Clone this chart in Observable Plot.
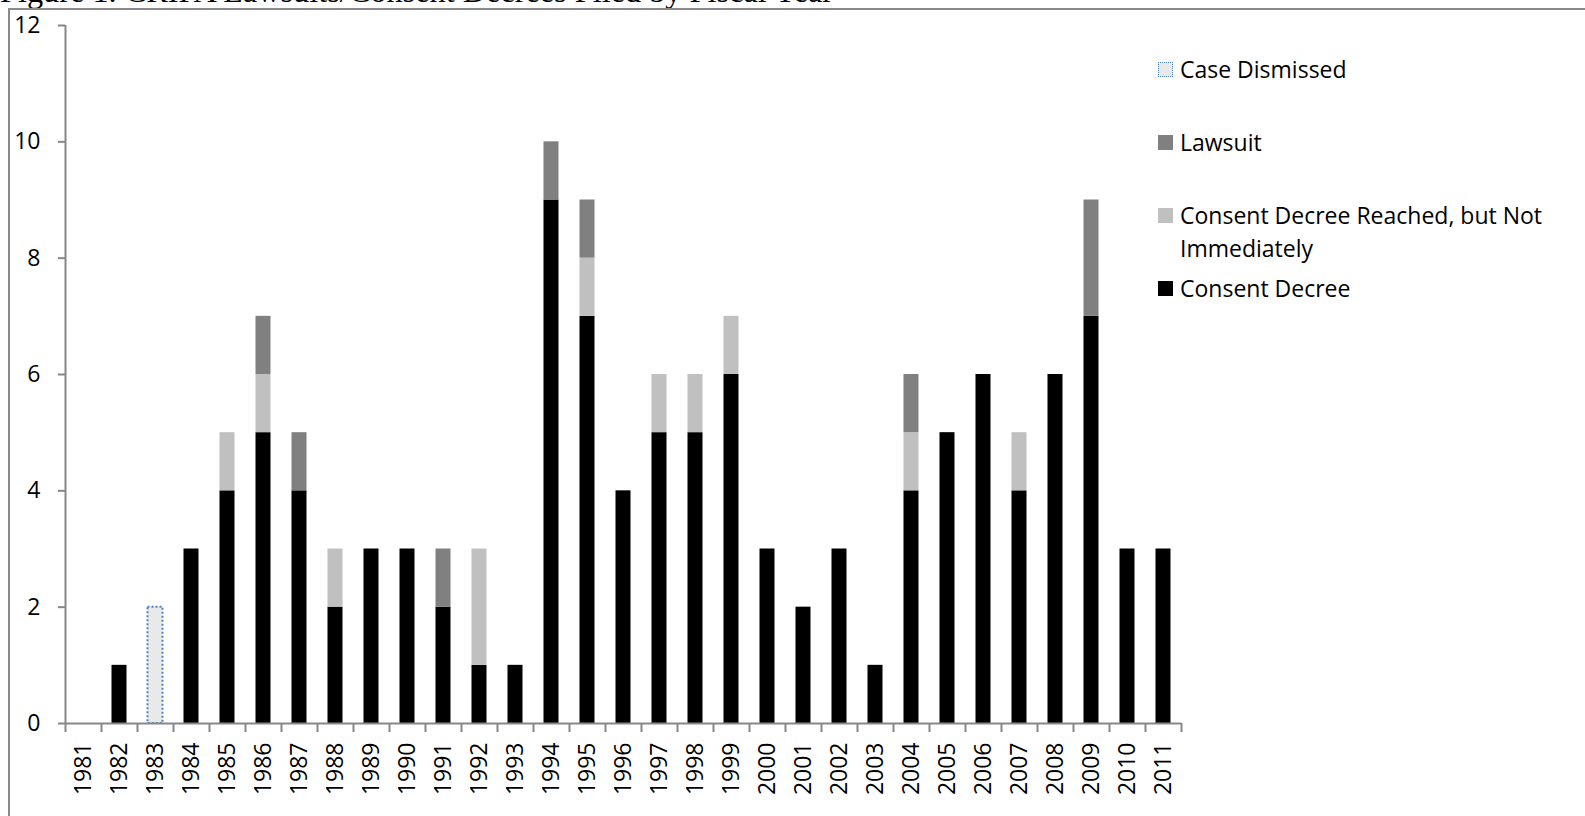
<!DOCTYPE html>
<html>
<head>
<meta charset="utf-8">
<script src="https://cdn.jsdelivr.net/npm/d3@7"></script>
<script src="https://cdn.jsdelivr.net/npm/@observablehq/plot@0.6"></script>
<style>
  html, body { margin: 0; padding: 0; background: #fff; overflow: hidden; width: 1585px; height: 816px; }
  #title { position: absolute; left: 0; top: 0; overflow: visible; }
  #title text { font-family: "Liberation Serif", "Times New Roman", serif; font-size: 32.3px; fill: #000; }
  #frame {
    position: absolute; left: 8px; top: 8px; width: 1700px; height: 1000px;
    border: 2px solid #8a8a8a; box-sizing: border-box;
  }
  #chart { position: absolute; left: 0; top: 0; }
  .legend { position: absolute; left: 1158px; font-family: "Open Sans", sans-serif; font-size: 23px; color: #000; }
  .legend .item { position: absolute; left: 0; white-space: nowrap; }
  .legend .sw { position: absolute; left: 0; width: 15px; height: 15px; box-sizing: border-box; }
  .legend .lbl { position: absolute; left: 22px; line-height: 33px; }
</style>
</head>
<body>
<svg id="title" width="1585" height="12"><text x="0" y="2">Figure 1. CRIPA Lawsuits/Consent Decrees Filed by Fiscal Year</text></svg>
<div id="frame"></div>
<div id="chart"></div>
<div class="legend" id="legend"></div>
<script>
// Fiscal years on the horizontal axis
const years = [1981, 1982, 1983, 1984, 1985, 1986, 1987, 1988, 1989, 1990,
               1991, 1992, 1993, 1994, 1995, 1996, 1997, 1998, 1999, 2000,
               2001, 2002, 2003, 2004, 2005, 2006, 2007, 2008, 2009, 2010, 2011];

// Counts per fiscal year, one array per outcome
const consentDecree = [0, 1, 0, 3, 4, 5, 4, 2, 3, 3,
                       2, 1, 1, 9, 7, 4, 5, 5, 6, 3,
                       2, 3, 1, 4, 5, 6, 4, 6, 7, 3, 3];
const notImmediately = [0, 0, 0, 0, 1, 1, 0, 1, 0, 0,
                        0, 2, 0, 0, 1, 0, 1, 1, 1, 0,
                        0, 0, 0, 1, 0, 0, 1, 0, 0, 0, 0];
const lawsuit = [0, 0, 0, 0, 0, 1, 1, 0, 0, 0,
                 1, 0, 0, 1, 1, 0, 0, 0, 0, 0,
                 0, 0, 0, 1, 0, 0, 0, 0, 2, 0, 0];
const caseDismissed = [0, 0, 2, 0, 0, 0, 0, 0, 0, 0,
                       0, 0, 0, 0, 0, 0, 0, 0, 0, 0,
                       0, 0, 0, 0, 0, 0, 0, 0, 0, 0, 0];

const yTicks = [0, 2, 4, 6, 8, 10, 12];

const seriesNames = ["Consent Decree", "Consent Decree Reached, but Not Immediately", "Lawsuit"];
const seriesColors = ["#000000", "#c0c0c0", "#808080"];
const seriesValues = [consentDecree, notImmediately, lawsuit];

// Long-form rows for the stacked bars; each year occupies the interval [year, year + 1]
const rows = seriesNames.flatMap((name, s) =>
  years.map((year, i) => ({year, next: year + 1, series: name, value: seriesValues[s][i]})));
const dismissedRows = years.map((year, i) => ({year, next: year + 1, value: caseDismissed[i]}))
  .filter(d => d.value > 0);

const boundaries = years.concat([years[years.length - 1] + 1]);
const axisGray = "#878787";

const chart = Plot.plot({
  width: 1585,
  height: 816,
  marginLeft: 65,
  marginRight: 404,
  marginTop: 25,
  marginBottom: 93,
  style: {fontFamily: "Open Sans, sans-serif", fontSize: "23px", color: "#000", background: "transparent"},
  x: {type: "linear", domain: [years[0], years[years.length - 1] + 1], axis: null},
  y: {domain: [0, 12], axis: null},
  color: {domain: seriesNames, range: seriesColors},
  marks: [
    Plot.rectY(rows, Plot.stackY({
      x1: "year", x2: "next", y: "value", fill: "series",
      order: seriesNames, insetLeft: 10.5, insetRight: 10.5
    })),
    Plot.rectY(dismissedRows, {
      x1: "year", x2: "next", y: "value",
      fill: "#e9e9e9", stroke: "#4f81bd", strokeWidth: 2, strokeDasharray: "2,2",
      insetLeft: 10.5, insetRight: 10.5
    }),
    // y axis: line, ticks and labels
    Plot.ruleX([years[0]], {stroke: axisGray, strokeWidth: 2}),
    Plot.axisY({ticks: yTicks, tickSize: 7, tickPadding: 18, stroke: axisGray, strokeWidth: 2,
                fill: "#000", label: null, tickFormat: d => String(d)}),
    // x axis: baseline and tick marks between years
    Plot.ruleY([0], {stroke: axisGray, strokeWidth: 2}),
    Plot.axisX({ticks: boundaries, tickSize: 9, tickFormat: () => "", stroke: axisGray,
                strokeWidth: 2, label: null}),
    // year labels, centred in each year's slot
    Plot.text(years, {
      x: d => d + 0.5, y: 0, text: d => String(d), rotate: -90,
      textAnchor: "end", dy: 19, fill: "#000", fontSize: 23
    })
  ]
});
document.getElementById("chart").appendChild(chart);

// Legend, listed top to bottom as in the stack (top series first)
const legendItems = [
  {label: "Case Dismissed", top: 69, swatch: {background: "#e9e9e9", border: "1.5px dotted #4f81bd"}},
  {label: "Lawsuit", top: 142, swatch: {background: "#808080"}},
  {label: "Consent Decree Reached, but Not<br>Immediately", top: 215, swatch: {background: "#c0c0c0"}},
  {label: "Consent Decree", top: 288, swatch: {background: "#000000"}}
];
const legend = document.getElementById("legend");
for (const it of legendItems) {
  const item = document.createElement("div");
  item.className = "item";
  item.style.top = it.top + "px";
  const sw = document.createElement("div");
  sw.className = "sw";
  sw.style.top = "-7.5px";
  Object.assign(sw.style, it.swatch);
  const lbl = document.createElement("div");
  lbl.className = "lbl";
  lbl.style.top = "-16.5px";
  lbl.innerHTML = it.label;
  item.appendChild(sw);
  item.appendChild(lbl);
  legend.appendChild(item);
}
</script>
</body>
</html>
